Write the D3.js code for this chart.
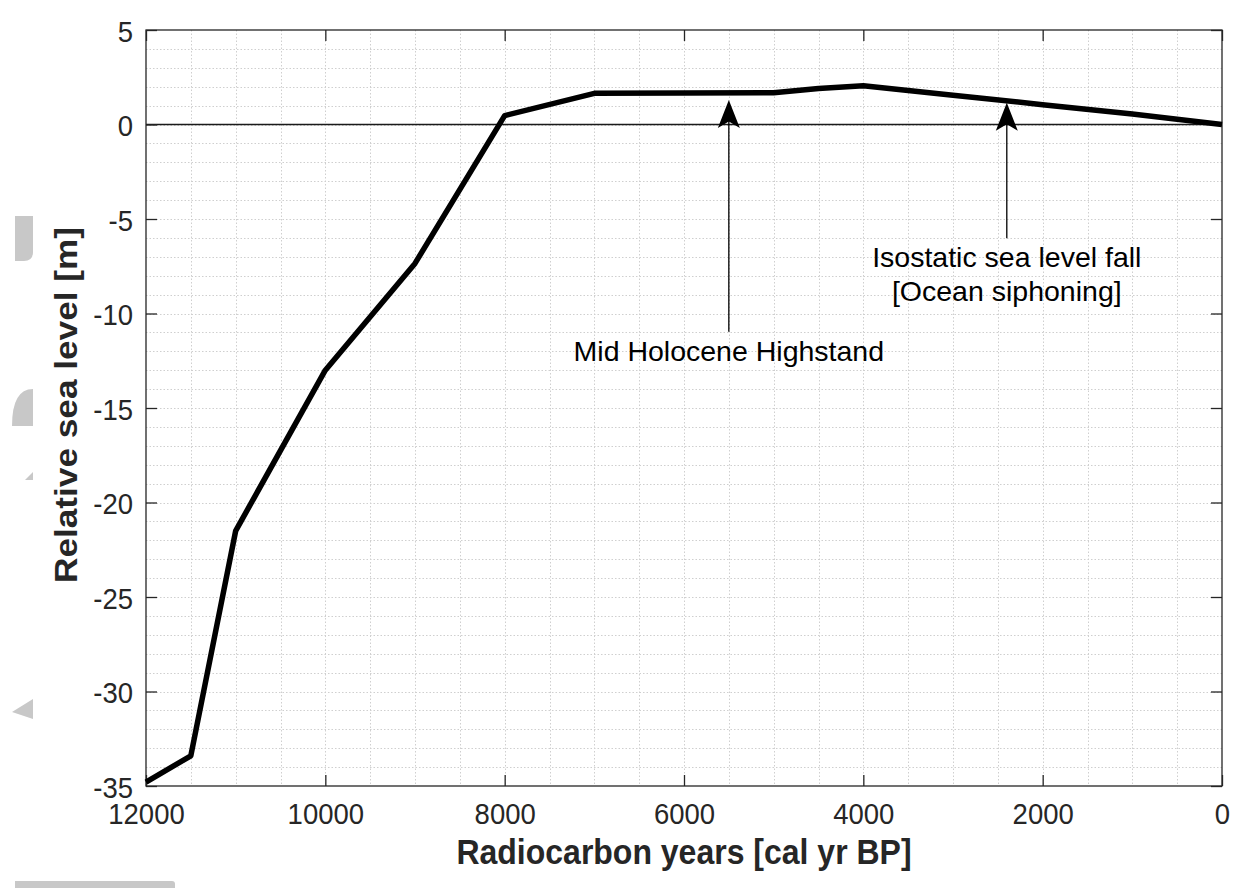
<!DOCTYPE html>
<html>
<head>
<meta charset="utf-8">
<script src="https://cdn.jsdelivr.net/npm/d3@7"></script>
<style>
  html, body { margin: 0; padding: 0; background: #fff; }
  svg { display: block; font-family: "Liberation Sans", Arial, sans-serif; }
</style>
</head>
<body>
<svg id="chart" width="1239" height="888"></svg>
<script>
// ---- data ----
const years = [12000, 11500, 11000, 10000, 9000, 8000, 7000, 6000, 5000, 4500, 4000, 3000, 2000, 1000, 0];
const seaLevel = [-34.8, -33.4, -21.5, -13.0, -7.35, 0.47, 1.65, 1.67, 1.68, 1.9, 2.05, 1.55, 1.05, 0.55, 0];

const xTicks = [12000, 10000, 8000, 6000, 4000, 2000, 0];
const yTicks = [5, 0, -5, -10, -15, -20, -25, -30, -35];

const xLabel = "Radiocarbon years [cal yr BP]";
const yLabel = "Relative sea level [m]";

// annotations: arrow x (year), tail value, tip value, text lines
const annotYears = [5500, 2400];
const annotTail = [-10.96, -6.02];
const annotTip = [1.3, 1.15];
const annotText = [["Mid Holocene Highstand"], ["Isostatic sea level fall", "[Ocean siphoning]"]];

// ---- layout ----
const svg = d3.select("#chart");
const L = 146, R = 1222, T = 30, B = 786;
const x = d3.scaleLinear().domain([12000, 0]).range([L, R]);
const y = d3.scaleLinear().domain([-35, 5]).range([B, T]);
const axisColor = "#262626";
const VS = 1.1; // vertical stretch of the original image

// watermark fragments (light gray)
const wm = svg.append("g").attr("fill", "#c8c8c8");
wm.append("path").attr("d", "M15,216 H33 V252 Q33,261 24,261 H15 Z");
wm.append("path").attr("d", "M12,426 Q12,389 33,389 V426 Z");
wm.append("path").attr("d", "M25,480 L33,472 V480 Z");
wm.append("path").attr("d", "M12,712 L33,699 V719 Z");
wm.append("path").attr("d", "M15,881 H172 Q175,881 175,884 V888 H15 Z");

// grid
const grid = svg.append("g").attr("stroke", "#cfcfcf").attr("stroke-width", 1)
  .attr("stroke-dasharray", "1.5,2");
grid.selectAll("line.gx").data(d3.range(500, 12000, 500)).join("line")
  .attr("x1", d => Math.round(x(d)) + 0.5).attr("x2", d => Math.round(x(d)) + 0.5)
  .attr("y1", T).attr("y2", B);
grid.selectAll("line.gy").data(d3.range(-34, 5, 1)).join("line")
  .attr("y1", d => Math.round(y(d)) + 0.5).attr("y2", d => Math.round(y(d)) + 0.5)
  .attr("x1", L).attr("x2", R);

// zero line
svg.append("line").attr("x1", L).attr("x2", R)
  .attr("y1", y(0)).attr("y2", y(0))
  .attr("stroke", "#1a1a1a").attr("stroke-width", 1.3);

// axes with inward ticks
function styleAxis(g) {
  g.select(".domain").remove();
  g.selectAll(".tick line").attr("stroke", axisColor).attr("stroke-width", 1.3);
}
const tickFont = 27.5;
const gx = svg.append("g").attr("transform", `translate(0,${B})`)
  .call(d3.axisBottom(x).tickValues(xTicks).tickSizeInner(-11).tickSizeOuter(0).tickFormat(d3.format("d")));
styleAxis(gx);
gx.selectAll(".tick text").remove();
gx.selectAll(".tick").append("text")
  .attr("fill", axisColor).attr("font-size", tickFont).attr("text-anchor", "middle")
  .attr("transform", `translate(0,38) scale(1,${VS})`)
  .text(d => d3.format("d")(d));

const gxt = svg.append("g").attr("transform", `translate(0,${T})`)
  .call(d3.axisTop(x).tickValues(xTicks).tickSizeInner(-11).tickSizeOuter(0).tickFormat(""));
styleAxis(gxt);

const gy = svg.append("g").attr("transform", `translate(${L},0)`)
  .call(d3.axisLeft(y).tickValues(yTicks).tickSizeInner(-11).tickSizeOuter(0));
styleAxis(gy);
gy.selectAll(".tick text").remove();
gy.selectAll(".tick").append("text")
  .attr("fill", axisColor).attr("font-size", tickFont).attr("text-anchor", "end")
  .attr("transform", `translate(-13,11) scale(1,${VS})`)
  .text(d => d);

const gyr = svg.append("g").attr("transform", `translate(${R},0)`)
  .call(d3.axisRight(y).tickValues(yTicks).tickSizeInner(-11).tickSizeOuter(0).tickFormat(""));
styleAxis(gyr);

// box
svg.append("rect").attr("x", L).attr("y", T).attr("width", R - L).attr("height", B - T)
  .attr("fill", "none").attr("stroke", axisColor).attr("stroke-width", 1.3);

// data line
const pts = years.map((yr, i) => [yr, seaLevel[i]]);
svg.append("path").datum(pts)
  .attr("d", d3.line().x(d => x(d[0])).y(d => y(d[1])))
  .attr("fill", "none").attr("stroke", "#000").attr("stroke-width", 5.5)
  .attr("stroke-linejoin", "round").attr("stroke-linecap", "butt");

// annotations
annotYears.forEach((yr, i) => {
  const ax = x(yr), tail = y(annotTail[i]), tip = y(annotTip[i]);
  svg.append("line").attr("x1", ax).attr("x2", ax).attr("y1", tail).attr("y2", tip + 18)
    .attr("stroke", "#000").attr("stroke-width", 1.3);
  svg.append("path")
    .attr("d", `M${ax},${tip} L${ax + 11},${tip + 28} L${ax},${tip + 21.5} L${ax - 11},${tip + 28} Z`)
    .attr("fill", "#000");
  annotText[i].forEach((s, j) => {
    svg.append("text").attr("x", ax).attr("y", tail + 29 + j * 34)
      .attr("text-anchor", "middle").attr("font-size", 28.5).attr("fill", "#000")
      .text(s);
  });
});

// axis labels
svg.append("text")
  .attr("transform", `translate(${(L + R) / 2},864) scale(1,${VS})`)
  .attr("text-anchor", "middle").attr("font-size", 32).attr("font-weight", "bold")
  .attr("fill", axisColor).text(xLabel);
svg.append("text")
  .attr("transform", `translate(77,${(T + B) / 2 - 3}) scale(1,${VS}) rotate(-90)`)
  .attr("text-anchor", "middle").attr("font-size", 32).attr("font-weight", "bold")
  .attr("fill", axisColor).text(yLabel);
</script>
</body>
</html>
